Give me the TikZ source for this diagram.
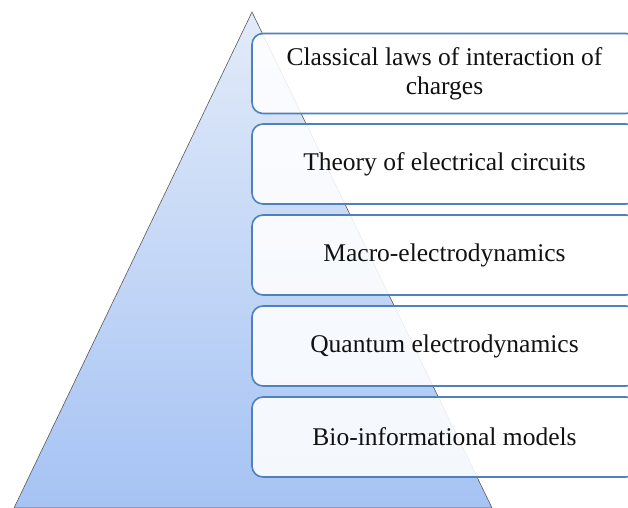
\documentclass[tikz,border=0pt]{standalone}
\usepackage{fontspec}
\newfontfamily\tnr{Liberation Serif}
\definecolor{boxblue}{HTML}{4F81BD}
\definecolor{tritop}{HTML}{E2EBF9}
\definecolor{tribot}{HTML}{A6C3F4}
\definecolor{txt}{HTML}{111111}
\tikzset{
  levelbox/.style={draw=boxblue, line width=1.6pt, rounded corners=11pt,
    fill=white, fill opacity=0.88, text opacity=1, text=txt,
    minimum width=385pt, minimum height=80pt, align=center,
    font=\tnr\fontsize{25.5}{29}\selectfont, inner sep=0pt},
  pyr/.style={top color=tritop, bottom color=tribot, draw=gray!70!black, line width=0.6pt}
}
\begin{document}
\begin{tikzpicture}[x=1pt,y=-1pt]
\useasboundingbox (0,0) rectangle (628,507);
\fill[white] (0,0) rectangle (628,507);
\path[pyr] (252,12) -- (14,508) -- (492,508) -- cycle;
\node[levelbox] (b1) at (444.5,73.5) {Classical laws of interaction of\\charges};
\node[levelbox] (b2) at (444.5,164) {Theory of electrical circuits};
\node[levelbox] (b3) at (444.5,255) {Macro-electrodynamics};
\node[levelbox] (b4) at (444.5,346) {Quantum electrodynamics};
\node[levelbox] (b5) at (444.5,437) {Bio-informational models};
\end{tikzpicture}
\end{document}
